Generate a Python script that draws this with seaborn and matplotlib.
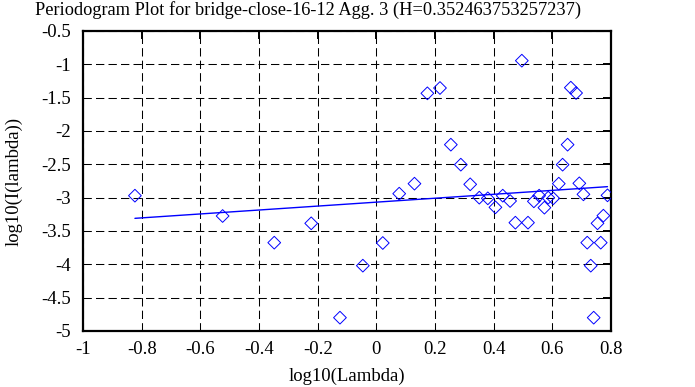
import matplotlib
matplotlib.use("Agg")
import matplotlib.pyplot as plt
import seaborn as sns
import pandas as pd

# Data
log_lambda = [-0.823, -0.524, -0.348, -0.222, -0.124, -0.046, 0.022, 0.078,
              0.130, 0.174, 0.217, 0.254, 0.288, 0.320, 0.351, 0.380, 0.406,
              0.431, 0.456, 0.474, 0.496, 0.517, 0.537, 0.555, 0.573, 0.586,
              0.603, 0.622, 0.635, 0.652, 0.663, 0.681, 0.692, 0.706, 0.719,
              0.731, 0.741, 0.754, 0.765, 0.774, 0.788]
log_I = [-2.97, -3.275, -3.675, -3.385, -4.80, -4.02, -3.68, -2.94,
         -2.79, -1.435, -1.355, -2.205, -2.505, -2.80, -3.00, -3.01, -3.145,
         -2.97, -3.05, -3.375, -0.945, -3.375, -3.055, -2.97, -3.15, -3.00,
         -3.01, -2.79, -2.505, -2.205, -1.35, -1.43, -2.785, -2.95, -3.675,
         -4.02, -4.80, -3.385, -3.675, -3.27, -2.965]
fit_x = [-0.823, 0.788]
fit_y = [-3.31, -2.835]

title = "Periodogram Plot for bridge-close-16-12 Agg. 3 (H=0.352463753257237)"
x_ticks = [-1, -0.8, -0.6, -0.4, -0.2, 0, 0.2, 0.4, 0.6, 0.8]
y_ticks = [-5, -4.5, -4, -3.5, -3, -2.5, -2, -1.5, -1, -0.5]

sns.set_theme(style="white")
plt.rcParams['font.family'] = ['Liberation Serif', 'DejaVu Serif']

fig = plt.figure(figsize=(6.95, 3.87), dpi=100)
ax = fig.add_axes([83/695, 1-331/387, (611-83)/695, (331-31)/387])

df = pd.DataFrame({"x": log_lambda, "y": log_I})
fit = pd.DataFrame({"x": fit_x, "y": fit_y})

sns.lineplot(data=fit, x="x", y="y", ax=ax, color="#0000ff", linewidth=1.0, zorder=3)
sns.scatterplot(data=df, x="x", y="y", ax=ax, marker="D", s=42,
                facecolors="none", edgecolor="#0000ff", linewidth=0.7, zorder=4)

ax.set_xlim(-1, 0.8)
ax.set_ylim(-5, -0.5)
ax.set_xticks(x_ticks)
ax.set_yticks(y_ticks)
ax.set_xticklabels([f"{v:g}" for v in x_ticks])
ax.set_yticklabels([f"{v:g}" for v in y_ticks])
ax.grid(True, color="black", linestyle=(0, (8, 4)), linewidth=0.75)
ax.tick_params(direction="in", length=5.5, width=1.4, top=True, right=True,
               labelsize=13.5, colors="black")
ax.tick_params(axis="x", pad=7)
ax.tick_params(axis="y", pad=9)
for sp in ax.spines.values():
    sp.set_color("black")
    sp.set_linewidth(1.6)
ax.set_xlabel("log10(Lambda)", fontsize=13.5, color="black", labelpad=7)
ax.set_ylabel("log10(I(lambda))", fontsize=13.5, color="black", labelpad=13)
fig.text(308/695, 1 - 10/387, title, fontsize=13.2, color="black",
         ha="center", va="center")

fig.savefig("out.png", dpi=100)
